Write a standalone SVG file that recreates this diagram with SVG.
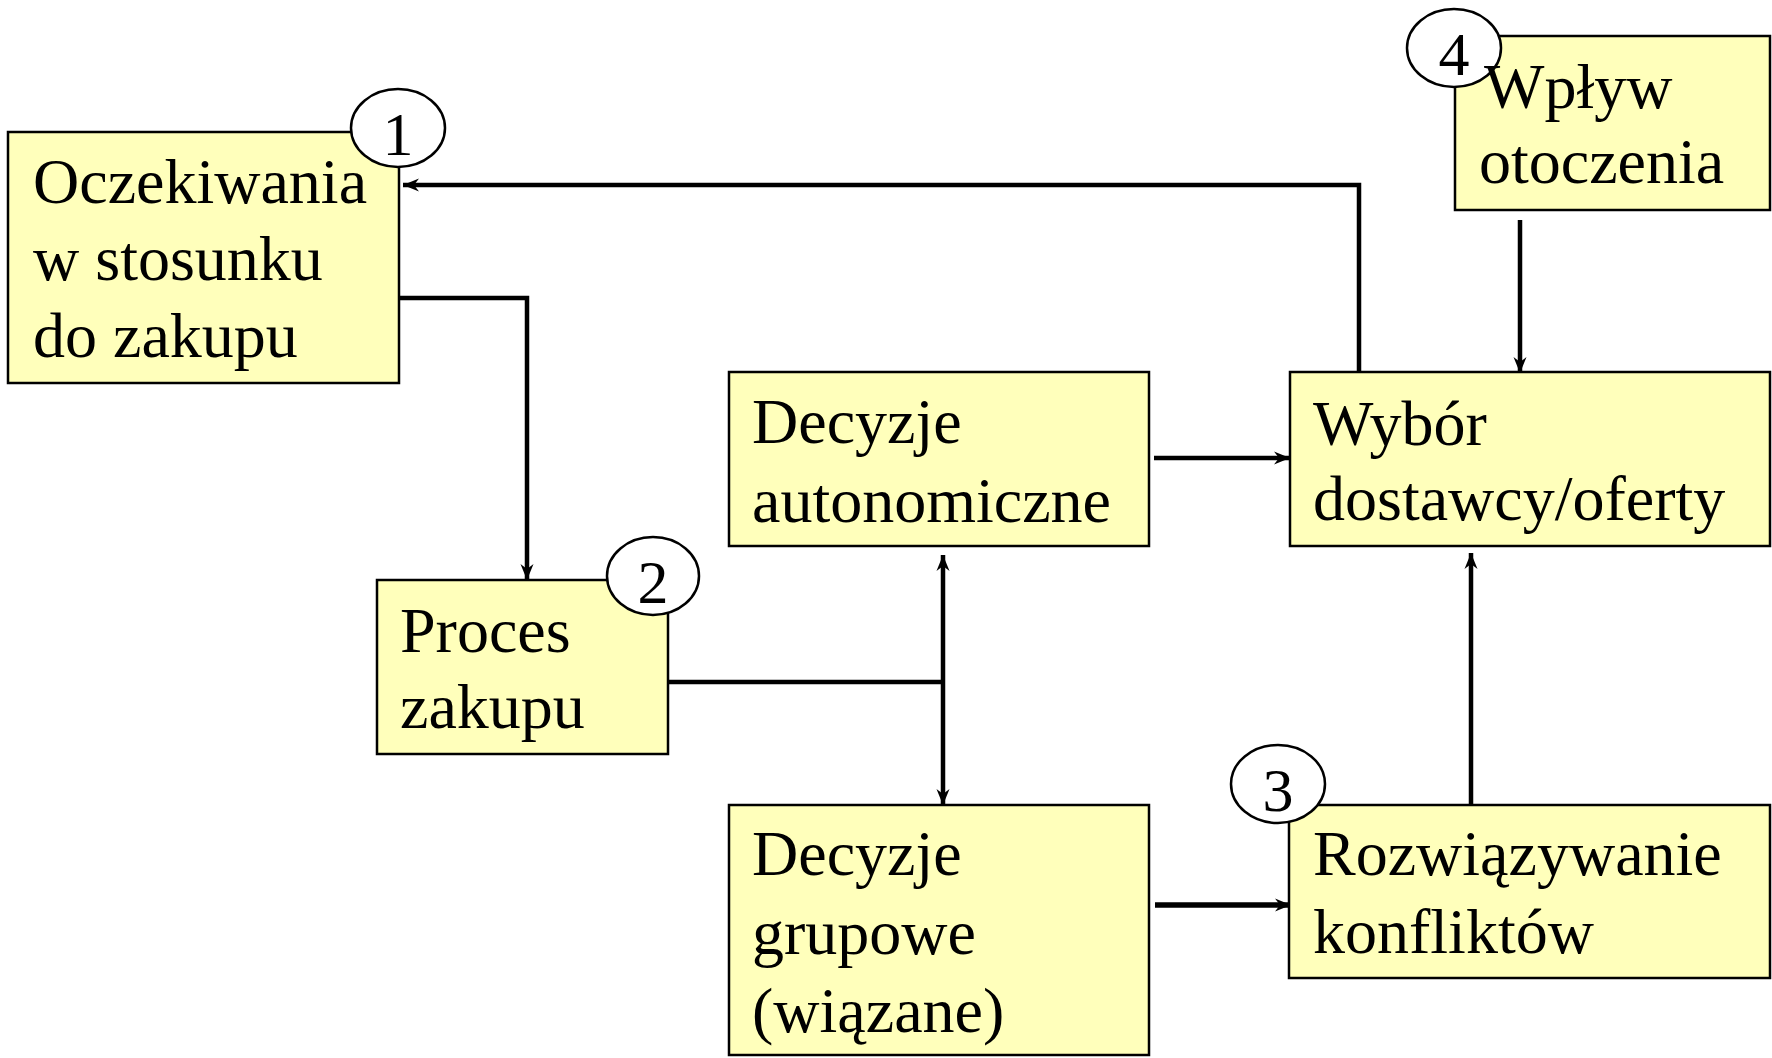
<svg xmlns="http://www.w3.org/2000/svg" width="1772" height="1058" viewBox="0 0 1772 1058">
<style>
.box{fill:#FFFFBB;stroke:#000;stroke-width:2.5}
.badge{fill:#fff;stroke:#000;stroke-width:2.5}
.t{font-family:"Liberation Serif","Times New Roman",serif;font-size:64px;fill:#000}
.n{font-family:"Liberation Serif","Times New Roman",serif;font-size:62px;fill:#000;text-anchor:middle}
.c{fill:none;stroke:#000;stroke-width:4.5;stroke-linejoin:miter}
</style>
<defs>
<marker id="ah" markerUnits="userSpaceOnUse" markerWidth="18" markerHeight="14" refX="16" refY="7" orient="auto-start-reverse" viewBox="0 0 18 14">
<path d="M0,0.5 L16,7 L0,13.5 L5,7 z" fill="#000"/>
</marker>
</defs>
<rect width="1772" height="1058" fill="#fff"/>
<g id="connectors">
<path class="c" d="M1359,379 V185 H403" marker-end="url(#ah)"/>
<path class="c" d="M399,298 H527 V580" marker-end="url(#ah)"/>
<path class="c" d="M668,682 H943"/>
<path class="c" d="M943,555 V805" marker-start="url(#ah)" marker-end="url(#ah)"/>
<path class="c" d="M1154,458 H1290" marker-end="url(#ah)"/>
<path class="c" d="M1155,905 H1291" marker-end="url(#ah)" style="stroke-width:5.5"/>
<path class="c" d="M1471,811 V553" marker-end="url(#ah)"/>
<path class="c" d="M1520,220 V373" marker-end="url(#ah)"/>
</g>
<g id="node-oczekiwania">
<rect class="box" x="8" y="132" width="391" height="251"/>
<ellipse class="badge" cx="398" cy="128" rx="47" ry="39"/>
<text class="n" x="398" y="155">1</text>
<text class="t" x="33" y="203">Oczekiwania</text>
<text class="t" x="33" y="280">w stosunku</text>
<text class="t" x="33" y="357">do zakupu</text>
</g>
<g id="node-proces">
<rect class="box" x="377" y="580" width="291" height="174"/>
<ellipse class="badge" cx="653" cy="576" rx="46" ry="39"/>
<text class="n" x="653" y="603">2</text>
<text class="t" x="400" y="652">Proces</text>
<text class="t" x="400" y="728">zakupu</text>
</g>
<g id="node-autonomiczne">
<rect class="box" x="729" y="372" width="420" height="174"/>
<text class="t" x="752" y="443">Decyzje</text>
<text class="t" x="752" y="522">autonomiczne</text>
</g>
<g id="node-grupowe">
<rect class="box" x="729" y="805" width="420" height="250"/>
<text class="t" x="752" y="875">Decyzje</text>
<text class="t" x="752" y="954">grupowe</text>
<text class="t" x="752" y="1032">(wiązane)</text>
</g>
<g id="node-wybor">
<rect class="box" x="1290" y="372" width="480" height="174"/>
<text class="t" x="1313" y="445">Wybór</text>
<text class="t" x="1313" y="520">dostawcy/oferty</text>
</g>
<g id="node-rozwiazywanie">
<rect class="box" x="1289" y="805" width="481" height="173"/>
<ellipse class="badge" cx="1278" cy="784" rx="47" ry="39"/>
<text class="n" x="1278" y="811">3</text>
<text class="t" x="1313" y="875">Rozwiązywanie</text>
<text class="t" x="1313" y="953">konfliktów</text>
</g>
<g id="node-wplyw">
<rect class="box" x="1455" y="36" width="315" height="174"/>
<ellipse class="badge" cx="1454" cy="48" rx="47" ry="39"/>
<text class="n" x="1454" y="75">4</text>
<text class="t" x="1484" y="108">Wpływ</text>
<text class="t" x="1479" y="183">otoczenia</text>
</g>
</svg>
